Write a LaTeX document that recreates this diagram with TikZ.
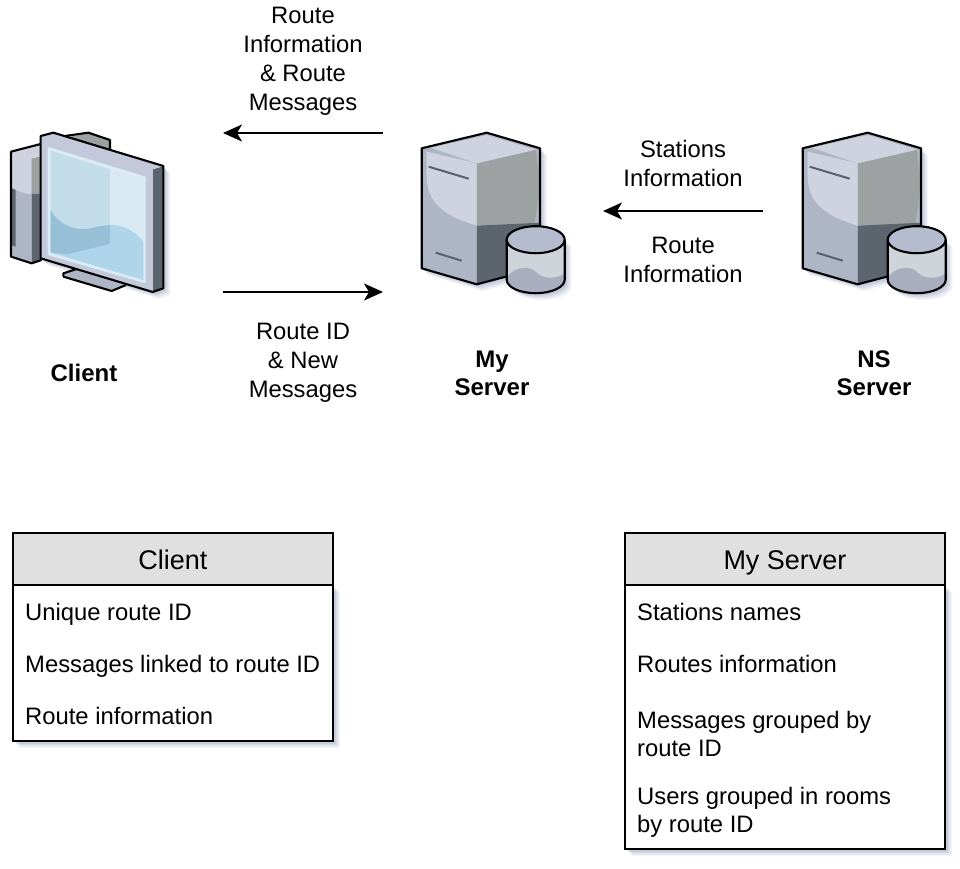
\documentclass[tikz,border=0pt]{standalone}
\usepackage{fontspec}
\setmainfont{Liberation Sans}
\usetikzlibrary{arrows.meta,shadows}
\definecolor{shadowblue}{HTML}{8E9AB8}
\definecolor{panelgray}{HTML}{E0E0E0}
\definecolor{srvlight}{HTML}{CFD3E0}
\definecolor{srvmid}{HTML}{AEB6C6}
\definecolor{srvside}{HTML}{9DA1A1}
\definecolor{srvdark}{HTML}{5C656E}
\definecolor{srvline}{HTML}{58626A}
\definecolor{cyltop}{HTML}{B6BCD0}
\definecolor{cylside}{HTML}{CFD3DA}
\definecolor{cylbase}{HTML}{A8AEBD}
\definecolor{scrframe}{HTML}{C3C8DA}
\definecolor{scrlight}{HTML}{D8E9F3}
\definecolor{scrmid}{HTML}{AFD5EA}
\definecolor{scrdeep}{HTML}{8FB9CF}
\definecolor{scrsoft}{HTML}{C2DCE9}
\tikzset{softshadow/.style={
	drop shadow={shadow xshift=7pt,shadow yshift=-7pt,fill=shadowblue,opacity=.10},
	drop shadow={shadow xshift=5.5pt,shadow yshift=-5.5pt,fill=shadowblue,opacity=.14},
	drop shadow={shadow xshift=4pt,shadow yshift=-4pt,fill=shadowblue,opacity=.18},
	drop shadow={shadow xshift=2.5pt,shadow yshift=-2.5pt,fill=shadowblue,opacity=.22}}}
\tikzset{lbl/.style={align=center,font=\fontsize{23.8}{29}\selectfont,inner sep=0pt}}
\tikzset{devlbl/.style={lbl,font=\fontsize{24}{28}\selectfont\bfseries}}
\tikzset{rowlbl/.style={anchor=west,align=left,font=\fontsize{23.8}{28}\selectfont,inner sep=0pt}}
\tikzset{headbox/.style={draw,line width=1.8pt,fill=panelgray,minimum width=320pt,minimum height=52pt,inner sep=0pt,text height=20pt,text depth=0pt,font=\fontsize{27}{32}\selectfont}}
\tikzset{bodybox/.style={draw,line width=1.8pt,fill=white,minimum width=320pt,inner sep=0pt,softshadow}}
\tikzset{flow/.style={line width=1.5pt,-{Stealth[length=19pt,width=17pt,inset=5pt]}}}
\tikzset{edge/.style={line width=2.1pt,line join=round}}
% server with its small database, origin at top left of the box
\tikzset{serverpic/.pic={
	\fill[white,softshadow] (0,15.6) -- (65,0) -- (118.3,15.6) -- (118.3,135) -- (55,151.6) -- (0,135.6) -- cycle;
	\fill[srvmid] (0,15.6) -- (65,0) -- (118.3,15.6) -- (118.3,135) -- (55,30.6) -- (55,151.6) -- (0,135.6) -- cycle;
	\fill[srvmid] (55,30.6) -- (118.3,15.6) -- (118.3,93) -- (55,93) -- cycle;
	\fill[srvside] (55,30.6) -- (114,17) .. controls (118,40) and (118,70) .. (112,92) -- (55,93) -- cycle;
	\fill[srvdark] (55,93) -- (118.3,90) -- (118.3,135) -- (55,151.6) -- cycle;
	\fill[srvlight] (9,15) -- (65,2.5) -- (114,17) -- (55,30.6) -- cycle;
	\fill[srvlight] (5,19) -- (55,30.6) -- (55,93) .. controls (30,85) and (6,75) .. (5,45) -- cycle;
	\draw[srvline,line width=2pt] (7,34) -- (47,46);
	\draw[srvline,line width=2pt] (14,120) -- (40,128);
	\draw[edge] (0,15.6) -- (65,0) -- (118.3,15.6) -- (118.3,135) -- (55,151.6) -- (0,135.6) -- cycle;
	\fill[cylside,softshadow] (85,107) -- (85,147) arc[start angle=180,end angle=0,x radius=29,y radius=13.5] -- (143,107) -- cycle;
	\fill[cylbase] (85,147) -- (85,145) .. controls (92,134) and (108,132) .. (115,140) .. controls (122,147) and (135,146) .. (143,141) -- (143,147) arc[start angle=0,end angle=180,x radius=29,y radius=13.5] -- cycle;
	\fill[cyltop] (114,107) ellipse[x radius=29,y radius=13.5];
	\draw[edge] (85,107) -- (85,147) arc[start angle=180,end angle=0,x radius=29,y radius=13.5] -- (143,107);
	\draw[edge] (114,107) ellipse[x radius=29,y radius=13.5];
}}
% desktop computer, drawn in zoomed pixels
\tikzset{clientpic/.pic={
	\begin{scope}[x=.3333pt,y=-.3333pt]
	\fill[white,softshadow] (122,48) -- (160,38) -- (490,138) -- (490,505) -- (458,516) -- (122,415) -- cycle;
	\fill[srvmid] (33,95) -- (95,115) -- (95,430) -- (33,410) -- cycle;
	\fill[srvlight] (33,95) -- (95,115) -- (95,222) .. controls (70,222) and (45,210) .. (33,200) -- cycle;
	\fill[srvdark] (33,205) -- (47,210) -- (47,380) -- (33,375) -- cycle;
	\fill[srvside] (95,115) -- (125,108) -- (125,222) -- (95,222) -- cycle;
	\fill[srvdark] (95,222) -- (125,222) -- (125,420) -- (95,430) -- cycle;
	\fill[srvlight] (33,95) -- (122,72) -- (122,108) -- (95,115) -- cycle;
	\draw[edge] (122,72) -- (33,95) -- (33,410) -- (95,430) -- (125,420);
	\fill[srvside] (210,50) -- (265,38) -- (330,60) -- (330,92) -- cycle;
	\draw[edge] (195,48) -- (265,38) -- (330,60) -- (330,92);
	\fill[srvmid] (190,460) -- (230,447) -- (378,495) -- (335,513) -- (190,470) -- cycle;
	\draw[edge] (190,470) -- (190,460) -- (230,447);
	\draw[edge] (190,470) -- (335,513) -- (378,495);
	\fill[srvdark] (458,148) -- (490,138) -- (490,505) -- (458,516) -- cycle;
	\fill[scrframe] (122,48) -- (160,38) -- (490,138) -- (458,148) -- (458,516) -- (122,415) -- cycle;
	\fill[white!55!scrmid] (143,80) -- (437,170) -- (437,490) -- (143,405) -- cycle;
	\fill[scrlight] (152,92) -- (430,178) -- (430,480) -- (152,398) -- cycle;
	\fill[scrmid] (152,270) .. controls (185,330) and (250,335) .. (290,320) .. controls (340,305) and (395,320) .. (430,365) -- (430,480) -- (152,398) -- cycle;
	\fill[scrsoft] (152,92) -- (330,148) -- (330,370) -- (200,403) -- (152,398) -- cycle;
	\fill[scrdeep!75!scrmid] (152,270) .. controls (185,330) and (250,335) .. (290,320) -- (330,315) -- (330,372) -- (200,403) -- (152,398) -- cycle;
	\draw[edge] (122,48) -- (160,38) -- (490,138) -- (490,505) -- (458,516) -- (122,415) -- cycle;
	\end{scope}
}}
\begin{document}
\begin{tikzpicture}[x=1pt,y=-1pt]
	\useasboundingbox (0,0) rectangle (960,868);
	% machines
	\pic at (0,120) {clientpic};
	\pic at (421.7,132.7) {serverpic};
	\pic at (802.7,132.7) {serverpic};
	\node[devlbl] (clientname) at (84,373) {Client};
	\node[devlbl] (myname) at (492,373) {My\\Server};
	\node[devlbl] (nsname) at (874,373) {NS\\Server};
	% arrows between the machines
	\coordinate (backend) at (223,133);
	\coordinate (backstart) at (383,133);
	\coordinate (sendstart) at (223,292);
	\coordinate (sendend) at (383,292);
	\coordinate (nsstart) at (763,211);
	\coordinate (nsend) at (603,211);
	\draw[flow] (backstart) -- (backend);
	\draw[flow] (sendstart) -- (sendend);
	\draw[flow] (nsstart) -- (nsend);
	\node[lbl] (backlbl) at (303,61) {Route\\Information\\\& Route\\Messages};
	\node[lbl] (sendlbl) at (303,363) {Route ID\\\& New\\Messages};
	\node[lbl] (stationlbl) at (683,163.5) {Stations\\Information};
	\node[lbl] (routelbl) at (683,259.5) {Route\\Information};
	% client table
	\node[bodybox,minimum height=156pt] (clientbody) at (173,663) {};
	\node[headbox] (clienthead) at (173,559) {Client};
	\node[rowlbl] (clientrowa) at (25,614) {Unique route ID};
	\node[rowlbl] (clientrowb) at (25,666) {Messages linked to route ID};
	\node[rowlbl] (clientrowc) at (25,716) {Route information};
	% server table
	\node[bodybox,minimum height=264pt] (serverbody) at (785,717) {};
	\node[headbox] (serverhead) at (785,559) {My Server};
	\node[rowlbl] (serverrowa) at (637,612) {Stations names};
	\node[rowlbl] (serverrowb) at (637,664) {Routes information};
	\node[rowlbl] (serverrowc) at (637,734) {Messages grouped by\\route ID};
	\node[rowlbl] (serverrowd) at (637,812) {Users grouped in rooms\\by route ID};
\end{tikzpicture}
\end{document}
